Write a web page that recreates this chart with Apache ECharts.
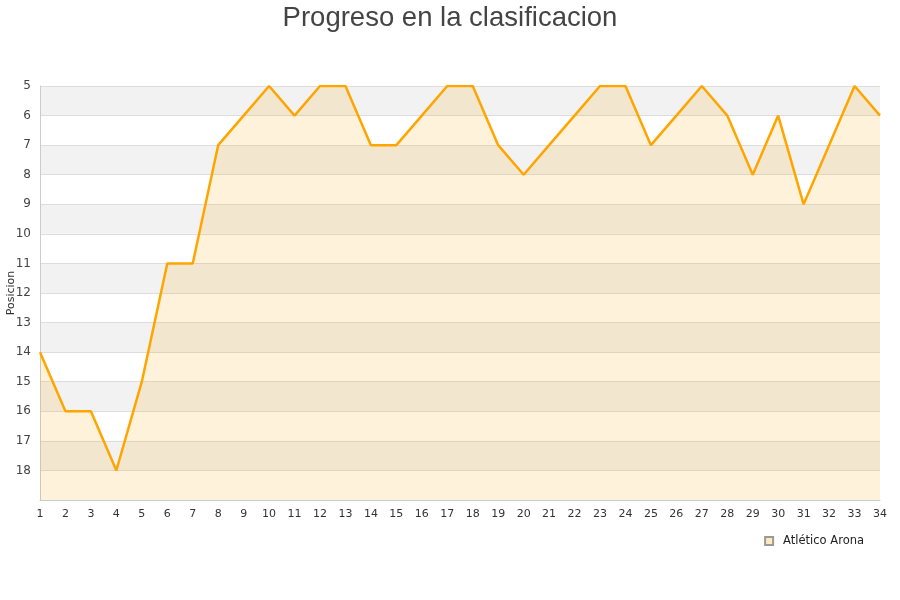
<!DOCTYPE html>
<html>
<head>
<meta charset="utf-8">
<script src="https://cdn.jsdelivr.net/npm/echarts@6/dist/echarts.min.js"></script>
<style>html,body{margin:0;padding:0;background:#fff}#c{width:900px;height:600px}</style>
</head>
<body>
<div id="c"></div>
<script>
var titleText = 'Progreso en la clasificacion';
var teamName = 'Atlético Arona';
var jornadas = ['1','2','3','4','5','6','7','8','9','10','11','12','13','14','15','16','17','18','19','20','21','22','23','24','25','26','27','28','29','30','31','32','33','34'];
var posiciones = [14,16,16,18,15,11,11,7,6,5,6,5,5,7,7,6,5,5,7,8,7,6,5,5,7,6,5,6,8,6,9,7,5,6];
var yMin = 5, yMax = 19;

var chart = echarts.init(document.getElementById('c'), null, {renderer: 'canvas'});
chart.setOption({
  animation: false,
  title: {
    text: titleText, left: 'center', top: -1,
    textStyle: {fontFamily: 'Liberation Sans, Arial, sans-serif', fontSize: 27.5, fontWeight: 'normal', color: '#444'}
  },
  legend: {
    data: [{name: teamName, icon: 'rect'}],
    right: 31, top: 530, itemWidth: 8, itemHeight: 8, itemGap: 8,
    textStyle: {fontFamily: 'DejaVu Sans, sans-serif', fontSize: 11.5, color: '#222', padding: [0, 0, 0, 5]}
  },
  grid: {left: 40, right: 20, top: 86, bottom: 100, containLabel: false, outerBoundsMode: 'none'},
  xAxis: {
    type: 'category', data: jornadas, boundaryGap: false,
    axisLine: {show: true, lineStyle: {color: '#ccc'}},
    axisTick: {show: false},
    axisLabel: {color: '#333', fontSize: 11, fontFamily: 'DejaVu Sans, sans-serif', margin: 9},
    splitLine: {show: false}
  },
  yAxis: {
    type: 'value', inverse: true, min: yMin, max: yMax, interval: 1,
    name: 'Posicion', nameLocation: 'middle', nameGap: 23, nameMoveOverlap: false,
    nameTextStyle: {color: '#333', fontSize: 11, fontFamily: 'DejaVu Sans, sans-serif'},
    axisLine: {show: true, lineStyle: {color: '#ccc'}},
    axisTick: {show: false},
    axisLabel: {color: '#444', fontSize: 12, fontFamily: 'DejaVu Sans, sans-serif', margin: 9, showMaxLabel: false},
    splitLine: {show: true, lineStyle: {color: '#ddd', width: 1}},
    splitArea: {show: true, areaStyle: {color: ['#f2f2f2', '#ffffff']}}
  },
  series: [{
    name: teamName, type: 'line', data: posiciones,
    showSymbol: false, symbol: 'none',
    lineStyle: {color: '#FFA500', width: 2.5},
    itemStyle: {color: '#FFE9BF', borderColor: '#999', borderWidth: 1},
    areaStyle: {color: 'rgba(255,165,0,0.2)', origin: 'end'}
  }]
});
</script>
</body>
</html>
